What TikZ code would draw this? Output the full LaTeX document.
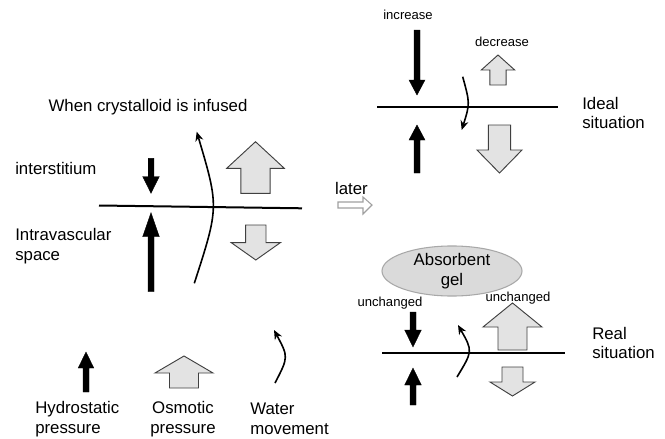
\documentclass[tikz,border=0pt]{standalone}
\usepackage{fontspec}
\setmainfont{Liberation Sans}
\usetikzlibrary{arrows.meta,shapes.geometric}
\definecolor{arrowgray}{HTML}{E3E3E3}
\definecolor{edgegray}{HTML}{404040}
\definecolor{gelgray}{HTML}{DADADA}
\definecolor{gelborder}{HTML}{A8A8A8}
\definecolor{latergray}{HTML}{A0A0A0}
% block arrow: #1 style, #2 x, #3 tip y, #4 head base y, #5 end y, #6 half head, #7 half shaft
\newcommand{\BlockArr}[7]{%
  \draw[#1] ({#2-#7},#5) -- ({#2-#7},#4) -- ({#2-#6},#4) -- (#2,#3) -- ({#2+#6},#4) -- ({#2+#7},#4) -- ({#2+#7},#5) -- cycle;}
\begin{document}
\begin{tikzpicture}[x=0.75pt,y=-0.75pt,
  lbl/.style={font=\fontsize{12.6}{14.8}\selectfont, inner sep=0pt, align=left},
  sml/.style={font=\fontsize{9.8}{11}\selectfont, inner sep=0pt},
  blk/.style={fill=black, draw=black, line width=0.3pt},
  gry/.style={fill=arrowgray, draw=edgegray, line width=0.7pt},
  membrane/.style={line width=1.5pt},
  water/.style={line width=1.2pt, -{Stealth[length=7pt,width=6pt]}}]
\useasboundingbox (0,0) rectangle (665,439);

% ---------- left panel ----------
\node[lbl] (title) at (148,107) {When crystalloid is infused};
\node[lbl, anchor=west] (inter) at (15,168) {interstitium};
\node[lbl, anchor=west] (intra) at (15,246) {Intravascular\\space};
\coordinate (mL1) at (99,205.5);
\coordinate (mL2) at (302,208.3);
\draw[membrane] (mL1) -- (mL2);
\BlockArr{blk}{151}{193.3}{176.5}{158.3}{8.3}{2.8}
\BlockArr{blk}{151}{212.7}{236.7}{291.7}{8.3}{3}
\BlockArr{gry}{255.5}{141.7}{168.3}{193.3}{28.8}{14.7}
\BlockArr{gry}{255.8}{260}{242.7}{225}{24.5}{10.2}
\coordinate (wL1) at (194.3,283.3);
\coordinate (wL2) at (196.7,131.7);
\draw[water] (wL1) .. controls (219,207) .. (wL2);

% ---------- later arrow ----------
\node[lbl] (later) at (351.5,188) {later};
\draw[draw=latergray, fill=white, line width=0.8pt]
  (338,202) -- (363,202) -- (363,197) -- (372,205) -- (363,214) -- (363,208) -- (338,208) -- cycle;

% ---------- ideal situation ----------
\node[sml] (inc) at (408,15) {increase};
\node[sml] (dec) at (502,42) {decrease};
\node[lbl, anchor=west] (ideal) at (582,113) {Ideal\\situation};
\coordinate (mI1) at (377,107);
\coordinate (mI2) at (558,107);
\draw[membrane] (mI1) -- (mI2);
\BlockArr{blk}{417}{95}{80}{30}{8}{3}
\BlockArr{blk}{417}{125}{140}{173}{8}{3}
\BlockArr{gry}{498}{55}{70}{85}{16.7}{8.2}
\BlockArr{gry}{499.5}{173}{150}{125}{22.5}{11.2}
\coordinate (wI1) at (462.7,76.7);
\coordinate (wI2) at (461.7,130);
\draw[water] (wI1) .. controls (470,103.5) .. (wI2);

% ---------- real situation ----------
\node[ellipse, fill=gelgray, draw=gelborder, line width=0.8pt, minimum width=105pt, minimum height=31.5pt, inner sep=0pt,
  lbl, align=center] (gel) at (452,271) {Absorbent\\gel};
\node[sml] (unc1) at (390,303) {unchanged};
\node[sml] (unc2) at (518,298) {unchanged};
\node[lbl, anchor=west] (real) at (592,343) {Real\\situation};
\coordinate (mR1) at (382,353);
\coordinate (mR2) at (565,353);
\draw[membrane] (mR1) -- (mR2);
\BlockArr{blk}{413}{347}{330}{312}{8.3}{3}
\BlockArr{blk}{413}{368}{385}{405}{8.3}{3}
\BlockArr{gry}{512.5}{303}{327}{350}{29.5}{14.5}
\BlockArr{gry}{512.5}{396}{382}{367}{22.5}{10.5}
\coordinate (wR1) at (457,377);
\coordinate (wR2) at (458,325);
\draw[water] (wR1) .. controls (472.8,351) .. (wR2);

% ---------- legend ----------
\BlockArr{blk}{86}{352}{368}{392}{7.8}{3}
\BlockArr{gry}{184}{356}{373}{388}{29}{14.5}
\coordinate (wG1) at (275,383);
\coordinate (wG2) at (274,330);
\draw[water] (wG1) .. controls (288.5,357) .. (wG2);
\node[lbl, anchor=west] (hyd) at (35,419) {Hydrostatic\\pressure};
\node[lbl, align=center] (osm) at (183,419) {Osmotic\\pressure};
\node[lbl, anchor=west] (wat) at (250,419) {Water\\movement};
\end{tikzpicture}
\end{document}
